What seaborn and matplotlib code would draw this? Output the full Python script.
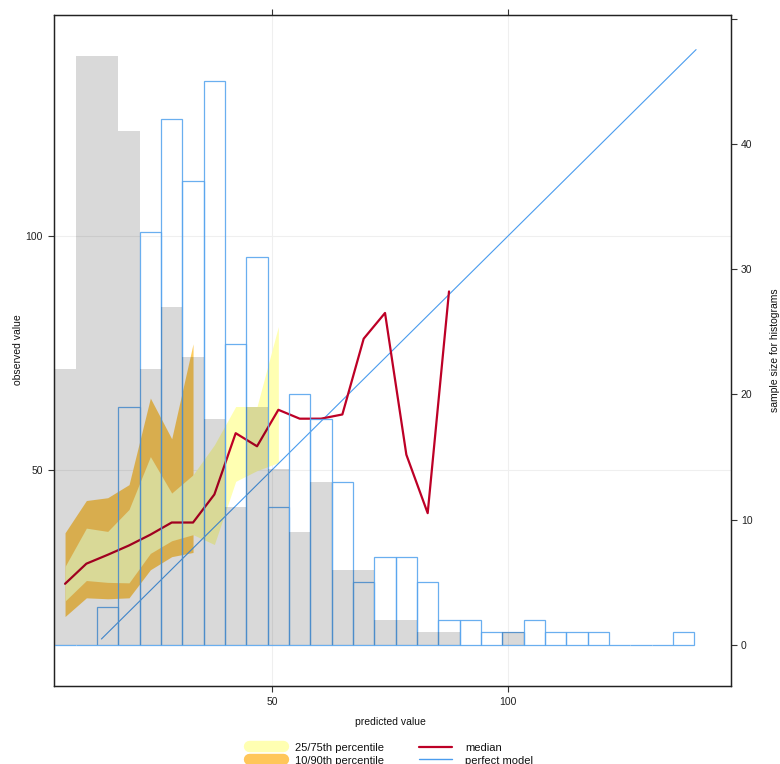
import numpy as np
import pandas as pd
import matplotlib
matplotlib.use("Agg")
import matplotlib.pyplot as plt
import seaborn as sns
from matplotlib.lines import Line2D

# ---------------- data ----------------
bin_centers = [6.09, 10.61, 15.13, 19.65, 24.17, 28.69, 33.21, 37.73, 42.25, 46.77,
               51.29, 55.81, 60.33, 64.85, 69.37, 73.89, 78.41, 82.93, 87.45, 91.97,
               96.49, 101.01, 105.53, 110.05, 114.57, 119.09, 123.61, 128.13, 132.65, 137.17]
bin_width = 4.52

obs_counts = [22, 47, 47, 41, 22, 27, 23, 18, 11, 19,
              14, 9, 13, 6, 6, 2, 2, 1, 1, 0,
              0, 1, 0, 0, 0, 0, 0, 0, 0, 0]
pred_counts = [0, 0, 3, 19, 33, 42, 37, 45, 24, 31,
               11, 20, 18, 13, 5, 7, 7, 5, 2, 2,
               1, 1, 2, 1, 1, 1, 0, 0, 0, 1]

median = [25.6, 29.9, 31.8, 33.8, 36.1, 38.7, 38.7, 44.7, 57.8, 55.0,
          62.8, 60.9, 60.9, 61.8, 78.0, 83.5, 53.2, 40.7, 88.1]
q10 = [18.6, 22.6, 22.4, 22.6, 28.6, 31.4, 32.3]
q90 = [36.5, 43.4, 44.0, 46.8, 65.3, 56.6, 76.9]
q25 = [21.9, 26.3, 25.9, 25.8, 32.1, 34.8, 36.1, 34.0, 47.5, 49.8, 51.5]
q75 = [29.3, 37.5, 36.8, 41.5, 52.8, 45.0, 48.9, 55.3, 63.5, 63.5, 80.6]

perfect_range = [13.8, 139.8]

x_ticks = [50, 100]
y_ticks = [50, 100]
count_ticks = [0, 10, 20, 30, 40, 50]
count_labels = ["0", "10", "20", "30", "40", ""]

# ---------------- style ----------------
sns.set_theme(style="white")
plt.rcParams["font.family"] = ["Liberation Sans", "DejaVu Sans"]

c_yellow = "#FFFFB2"
c_orange = "#FECC5C"
c_median = "#BD0026"
c_blue = "#4A9CEE"
c_hist = "#5AA6EE"

W, H = 780, 764
fig = plt.figure(figsize=(W / 100, H / 100), dpi=100)
fig.patch.set_facecolor("white")
L, R, T, B = 54, 731, 15, 686
ax = fig.add_axes([L / W, 1 - B / H, (R - L) / W, (B - T) / H])
ax.set_facecolor("white")

# grid
for v in x_ticks:
    ax.axvline(v, color="#EFEFEF", lw=0.8, zorder=0)
for v in y_ticks:
    ax.axhline(v, color="#EFEFEF", lw=0.8, zorder=0)

xc = np.array(bin_centers)
# quantile bands
ax.fill_between(xc[:len(q10)], q10, q90, color=c_orange, lw=0, zorder=1)
ax.fill_between(xc[:len(q25)], q25, q75, color=c_yellow, lw=0, zorder=2)

# perfect model line
sns.lineplot(x=perfect_range, y=perfect_range, ax=ax, color=c_blue, lw=0.8, zorder=3)
# median
sns.lineplot(x=xc[:len(median)], y=median, ax=ax, color=c_median, lw=1.6, zorder=4,
             sort=False)

lim = (3.75, 147.2)
ax.set_xlim(lim)
ax.set_ylim(lim)
ax.set_xticks(x_ticks)
ax.set_yticks(y_ticks)
ax.set_xticklabels([str(v) for v in x_ticks])
ax.set_yticklabels([str(v) for v in y_ticks])
ax.tick_params(axis="both", which="both", direction="out", length=4, width=0.8,
               color="#333333", labelsize=7.5, pad=4, labelcolor="#222222")
ax.tick_params(axis="x", top=True, labeltop=False, bottom=True)
ax.tick_params(axis="y", left=True, right=False)
ax.set_xlabel("")
ax.set_ylabel("")

# secondary axis: histograms
ax2 = ax.twinx()
edges = [float(c - bin_width / 2) for c in xc] + [float(xc[-1] + bin_width / 2)]
hist_df = pd.DataFrame({"x": xc, "pred": pred_counts, "obs": obs_counts})
sns.histplot(data=hist_df, x="x", weights="pred", bins=edges, ax=ax2, fill=False,
             element="bars", color=c_hist, linewidth=0.9, alpha=0.9)
sns.histplot(data=hist_df, x="x", weights="obs", bins=edges, ax=ax2, fill=True,
             element="bars", color="black", alpha=0.15, linewidth=0)
ax2.set_xlim(lim)
ax2.set_ylim(-3.29, 50.29)
ax2.set_yticks(count_ticks)
ax2.set_yticklabels(count_labels)
ax2.set_ylabel("")
ax2.set_xlabel("")
ax2.tick_params(axis="y", direction="out", length=4, width=0.8, color="#333333",
                labelsize=7.5, pad=3, labelcolor="#222222", right=True, left=False)

for a in (ax, ax2):
    for s in a.spines.values():
        s.set_color("#222222")
        s.set_linewidth(0.9)
        s.set_visible(True)

# axis labels
fig.text(390 / W, 1 - 722 / H, "predicted value", ha="center", va="center",
         fontsize=7.5, color="#111111")
fig.text(18 / W, 1 - 350 / H, "observed value", ha="center", va="center",
         rotation=90, fontsize=7.5, color="#111111")
fig.text(775 / W, 1 - 350 / H, "sample size for histograms", ha="center",
         va="center", rotation=90, fontsize=7.5, color="#111111")

# legend (bottom, partly cut by the figure edge)
def fx(px):
    return px / W

def fy(py):
    return 1 - py / H

fig.add_artist(Line2D([fx(249), fx(283)], [fy(758.5)] * 2, lw=8.2,
                      color="#FFC65A", solid_capstyle="round"))
fig.add_artist(Line2D([fx(249), fx(283)], [fy(746)] * 2, lw=8.2,
                      color=c_yellow, solid_capstyle="round"))
fig.text(fx(295), fy(748), "25/75th percentile", ha="left", va="center",
         fontsize=8, color="#111111")
fig.text(fx(295), fy(761), "10/90th percentile", ha="left", va="center",
         fontsize=8, color="#111111")
fig.add_artist(Line2D([fx(419), fx(452)], [fy(747.3)] * 2, lw=1.6, color=c_median))
fig.add_artist(Line2D([fx(419), fx(452)], [fy(759.3)] * 2, lw=1.0, color=c_blue))
fig.text(fx(465), fy(748), "median", ha="left", va="center", fontsize=8,
         color="#111111")
fig.text(fx(465), fy(761), "perfect model", ha="left", va="center", fontsize=8,
         color="#111111")

fig.savefig("out.png", dpi=100, facecolor="white")
